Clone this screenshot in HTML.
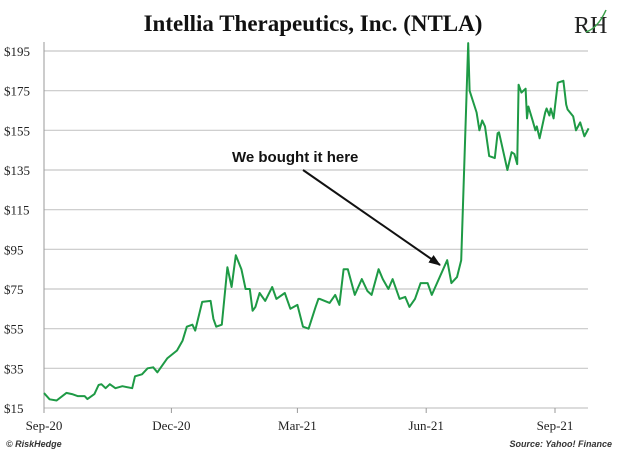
<!DOCTYPE html>
<html><head><meta charset="utf-8"><style>
body{margin:0;background:#fff;width:630px;height:457px;overflow:hidden;font-family:"Liberation Serif",serif}
</style></head><body>
<svg id="chart" width="630" height="457" xmlns="http://www.w3.org/2000/svg">
<text x="313" y="31" text-anchor="middle" font-family="Liberation Serif" font-weight="bold" font-size="23" fill="#111">Intellia Therapeutics, Inc. (NTLA)</text>
<g>
<text x="574" y="33" font-family="Liberation Serif" font-size="24" fill="#222">RH</text>
<path d="M586 32 Q598 28 606 10" stroke="#3aa04a" stroke-width="1.5" fill="none"/>
</g>
<g id="grid"></g><g id="yticks"></g><g id="xticks"></g>
<path id="line" fill="none" stroke="#1e9a45" stroke-width="2" stroke-linejoin="round"/>
<defs><marker id="ah" markerUnits="userSpaceOnUse" markerWidth="12" markerHeight="9" refX="11" refY="4.5" orient="auto"><path d="M0,0 L12,4.5 L0,9 z" fill="#111"/></marker></defs>
<line x1="303" y1="170" x2="440" y2="265" stroke="#111" stroke-width="2" marker-end="url(#ah)"/>
<text x="232" y="162" font-family="Liberation Sans" font-weight="bold" font-size="15" fill="#111">We bought it here</text>
<text x="6" y="447" font-family="Liberation Sans" font-style="italic" font-weight="bold" font-size="9" fill="#333">© RiskHedge</text>
<text x="612" y="447" text-anchor="end" font-family="Liberation Sans" font-style="italic" font-weight="bold" font-size="9" fill="#333">Source: Yahoo! Finance</text>
</svg>
<script>
const yTicks=[15,35,55,75,95,115,135,155,175,195];
const xTickLabels=["Sep-20","Dec-20","Mar-21","Jun-21","Sep-21"];
const xTickDays=[0,91,181,273,365];
const days=[0,4,9,16,20,24,29,31,36,39,41,44,47,51,56,63,65,70,74,78,81,88,95,99,102,106,108,113,119,121,123,127,131,134,137,141,144,147,149,151,154,158,163,166,172,176,181,185,189,194,196,197,204,208,211,214,217,222,227,231,234,239,242,246,249,254,258,261,265,269,271,274,277,288,291,295,298,301,303,304,309,311,313,315,318,322,324,325,331,334,336,338,339,341,344,345,346,349,351,352,354,358,359,361,362,364,367,371,373,374,378,380,383,386,389];
const prices=[22.5,19.4,18.8,22.6,22,21,21,19.5,22,26.6,27,25,27,25,26,25,31,32,35,35.5,33,40,44,49,56,57,54,68.5,69,60,56,57,86,76,92,85,75,75,64,66,73,69,76,70,73,65,67,56,55,66,70,70,68,72,67,85,85,72,80,74,72,85,80,75,80,70,71,66,70,78,78,78,72,89.5,78,81,89.5,155,199,175,164,155,160,157,142,141,153.5,154,135,144,143,138,178,174,176,161,167,160,155,157,151,164,166,162.5,166,161,179,180,168,165.5,162,155,159,152,156];
const svg=document.getElementById('chart');
const NS='http://www.w3.org/2000/svg';
const X0=44,X1=588,Y0=408,Y195=51;
const xs=d=>X0+d*1.4;
const ys=v=>Y0-(v-15)*(Y0-Y195)/180;
const grid=document.getElementById('grid'),yt=document.getElementById('yticks'),xt=document.getElementById('xticks');
yTicks.forEach(v=>{
 const l=document.createElementNS(NS,'line');
 
 
 l.setAttribute('x1',X0);l.setAttribute('x2',588);l.setAttribute('y1',ys(v));l.setAttribute('y2',ys(v));
 l.setAttribute('stroke','#c8c8c8');l.setAttribute('stroke-width','1.2');grid.appendChild(l);
 const t=document.createElementNS(NS,'text');
 
 
 t.setAttribute('x',4);t.setAttribute('y',ys(v)+5);t.setAttribute('font-size','13');t.setAttribute('fill','#222');
 t.textContent='$'+v;yt.appendChild(t);
});
const ax=document.createElementNS(NS,'line');


ax.setAttribute('x1',X0);ax.setAttribute('x2',X0);ax.setAttribute('y1',42);ax.setAttribute('y2',Y0);ax.setAttribute('stroke','#999');grid.appendChild(ax);
xTickDays.forEach((d,i)=>{
 const l=document.createElementNS(NS,'line');
 
 
 l.setAttribute('x1',xs(d));l.setAttribute('x2',xs(d));l.setAttribute('y1',Y0);l.setAttribute('y2',Y0+5);l.setAttribute('stroke','#999');xt.appendChild(l);
 const t=document.createElementNS(NS,'text');
 
 
 t.setAttribute('x',xs(d));t.setAttribute('y',430);t.setAttribute('text-anchor','middle');t.setAttribute('font-size','13');t.setAttribute('fill','#222');
 t.textContent=xTickLabels[i];xt.appendChild(t);
});
document.getElementById('line').setAttribute('d',days.map((d,i)=>(i?'L':'M')+xs(d).toFixed(1)+','+ys(prices[i]).toFixed(1)).join(''));
</script>
</body></html>
